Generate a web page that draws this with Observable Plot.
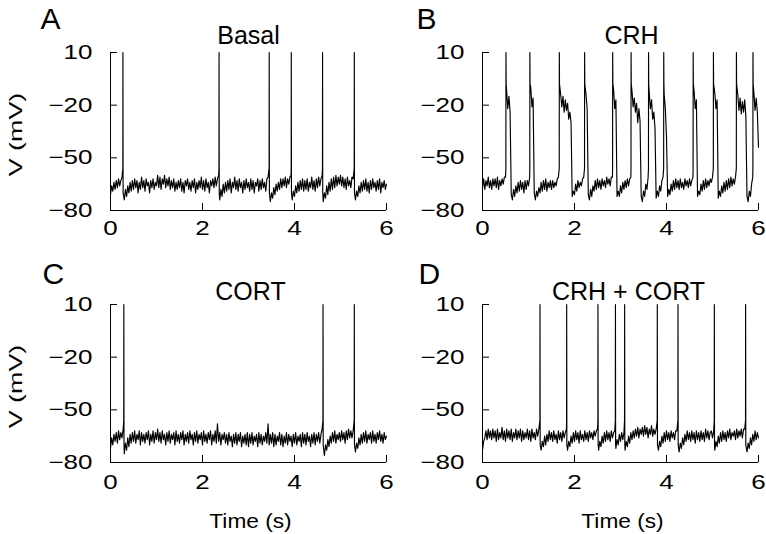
<!DOCTYPE html>
<html><head><meta charset="utf-8">
<script src="https://cdn.jsdelivr.net/npm/d3@7"></script>
<script src="https://cdn.jsdelivr.net/npm/@observablehq/plot@0.6"></script>
<style>
html,body{margin:0;padding:0;background:#fff;}
#fig{position:relative;width:766px;height:534px;overflow:hidden;background:#fff;}
</style></head><body><div id="fig"></div>
<script>
// ---- data ----
const sampleStep = 0.025;            // s between baseline samples
const xTicks = [0, 2, 4, 6];
const yTicks = [10, -20, -50, -80];
const panelLetters = ["A", "B", "C", "D"];
const panelTitles = ["Basal", "CRH", "CORT", "CRH + CORT"];
const spikePeak = 10;
const spikeThreshold = -56;
const spikeTroughs = [-70, -8, -70, -70];

const basalSpikes = [0.27, 2.36, 3.45, 3.93, 4.61, 5.30];
const crhSpikes = [0.51, 1.03, 1.67, 2.22, 2.83, 3.23, 3.61, 3.94, 4.58, 5.02, 5.52, 5.88];
const cortSpikes = [0.29, 4.62, 5.30];
const crhCortSpikes = [1.25, 1.83, 2.51, 2.89, 3.09, 3.80, 4.25, 5.04, 5.72];

const basalV = [
-71,-66,-69,-64,-68,-63,-67,-62,-66,-63,
-61,-73,-74,-68,-72,-66,-70,-64,-69,-63,
-68,-62,-67,-63,-70,-64,-68,-61,-67,-63,
-69,-62,-66,-64,-70,-63,-67,-62,-68,-64,
-66,-60,-67,-61,-68,-62,-65,-60,-67,-62,
-66,-61,-68,-63,-67,-62,-69,-64,-68,-63,
-67,-62,-69,-64,-70,-63,-66,-62,-68,-64,
-69,-63,-67,-62,-70,-64,-68,-63,-67,-61,
-68,-63,-69,-62,-67,-64,-70,-63,-66,-62,
-67,-61,-66,-62,-60,-74,-68,-72,-65,-70,
-64,-69,-63,-68,-62,-70,-64,-67,-61,-68,
-63,-69,-62,-67,-64,-70,-63,-68,-62,-67,
-64,-69,-62,-68,-63,-70,-64,-66,-62,-69,
-63,-68,-62,-67,-64,-69,-62,-61,-74,-75,
-70,-73,-67,-71,-65,-69,-64,-68,-62,-67,
-62,-66,-61,-67,-62,-65,-61,-60,-74,-69,
-72,-66,-70,-64,-69,-63,-68,-62,-69,-63,
-68,-62,-69,-64,-67,-61,-68,-63,-69,-62,
-67,-61,-66,-62,-60,-75,-70,-73,-66,-71,
-64,-69,-62,-68,-61,-67,-60,-66,-61,-65,
-60,-66,-61,-67,-62,-68,-61,-66,-63,-67,
-61,-62,-73,-74,-69,-72,-66,-70,-64,-69,
-63,-68,-62,-69,-64,-70,-63,-68,-62,-67,
-64,-69,-63,-68,-62,-70,-64,-67,-63,-68,
-65];

const crhV = [
-67,-62,-68,-63,-66,-61,-67,-63,-68,-62,
-66,-62,-67,-61,-68,-63,-66,-62,-65,-61,
-61,-12,-22,-15,-24,-71,-74,-68,-72,-66,
-70,-64,-69,-63,-68,-64,-70,-63,-68,-63,
-66,-61,-10,-21,-16,-70,-74,-69,-72,-67,
-70,-64,-69,-63,-68,-62,-69,-64,-67,-63,
-68,-63,-67,-64,-66,-62,-61,-60,-14,-21,
-15,-24,-17,-23,-19,-28,-24,-30,-72,-69,
-71,-65,-69,-63,-67,-64,-66,-62,-61,-60,
-14,-22,-71,-74,-68,-72,-66,-69,-63,-68,
-62,-67,-63,-68,-62,-66,-63,-67,-61,-65,
-62,-66,-61,-61,-11,-22,-17,-72,-69,-72,
-66,-70,-64,-68,-63,-67,-62,-66,-62,-61,
-12,-21,-16,-24,-19,-30,-22,-29,-72,-75,
-69,-72,-65,-68,-61,-13,-22,-17,-28,-24,
-33,-73,-69,-72,-66,-69,-63,-61,-14,-22,
-38,-72,-68,-71,-65,-69,-63,-68,-62,-67,
-63,-68,-62,-67,-64,-68,-62,-66,-63,-67,
-62,-66,-63,-61,-12,-22,-17,-72,-69,-71,
-65,-69,-63,-68,-62,-67,-63,-66,-62,-64,
-61,-60,-13,-22,-17,-73,-69,-72,-66,-70,
-64,-69,-63,-68,-62,-67,-61,-66,-62,-65,
-61,-60,-14,-23,-16,-25,-18,-24,-17,-26,
-72,-75,-69,-72,-65,-61,-13,-23,-16,-24,
-44];

const cortV = [
-72,-66,-70,-64,-68,-63,-69,-62,-67,-63,
-66,-61,-75,-69,-73,-66,-71,-64,-69,-63,
-68,-62,-69,-64,-67,-62,-70,-63,-68,-64,
-69,-63,-67,-62,-70,-64,-68,-62,-69,-63,
-67,-61,-68,-63,-69,-62,-67,-64,-70,-63,
-68,-62,-69,-64,-67,-63,-70,-62,-68,-64,
-69,-63,-67,-62,-70,-64,-68,-63,-69,-62,
-67,-64,-70,-63,-68,-62,-69,-64,-67,-63,
-70,-62,-68,-64,-69,-63,-67,-62,-70,-64,
-68,-62,-69,-58,-68,-63,-70,-64,-67,-63,
-69,-64,-70,-63,-68,-65,-71,-64,-69,-63,
-70,-64,-68,-63,-71,-65,-69,-64,-70,-63,
-71,-64,-69,-63,-70,-65,-68,-64,-71,-63,
-69,-64,-70,-65,-68,-63,-69,-58,-70,-64,
-69,-63,-71,-64,-70,-65,-68,-63,-70,-64,
-71,-65,-69,-63,-70,-64,-68,-65,-71,-64,
-69,-63,-70,-65,-68,-64,-71,-63,-69,-64,
-70,-63,-68,-65,-71,-64,-69,-63,-70,-64,
-68,-63,-69,-64,-61,-60,-76,-70,-73,-67,
-71,-65,-69,-63,-68,-62,-69,-64,-67,-63,
-68,-62,-67,-63,-69,-62,-67,-61,-66,-62,
-66,-62,-60,-74,-69,-72,-66,-70,-64,-69,
-63,-68,-62,-69,-64,-67,-63,-69,-62,-68,
-64,-69,-63,-67,-62,-68,-64,-69,-63,-67,
-65];

const crhCortV = [
-73,-68,-66,-62,-67,-61,-66,-62,-67,-61,
-66,-62,-68,-61,-67,-63,-66,-60,-67,-62,
-68,-61,-66,-62,-67,-61,-68,-63,-66,-61,
-67,-62,-66,-61,-68,-62,-67,-63,-66,-61,
-67,-62,-68,-61,-66,-63,-67,-61,-65,-61,
-60,-73,-68,-71,-65,-70,-64,-68,-62,-67,
-63,-68,-62,-67,-64,-69,-62,-67,-63,-68,
-62,-66,-63,-61,-73,-68,-71,-65,-69,-63,
-68,-62,-67,-63,-69,-62,-67,-64,-68,-62,
-67,-63,-68,-62,-66,-63,-67,-62,-65,-62,
-61,-73,-68,-71,-65,-69,-63,-68,-62,-67,
-63,-68,-62,-66,-63,-62,-72,-67,-70,-64,
-68,-63,-67,-63,-73,-68,-71,-65,-69,-63,
-67,-62,-66,-61,-65,-60,-66,-61,-64,-60,
-65,-59,-64,-60,-66,-61,-64,-59,-65,-61,
-64,-61,-60,-73,-68,-71,-65,-69,-63,-68,
-62,-67,-63,-68,-62,-66,-63,-67,-62,-62,
-60,-74,-69,-72,-66,-70,-64,-68,-62,-67,
-63,-68,-62,-67,-63,-69,-62,-67,-63,-68,
-62,-67,-63,-68,-61,-66,-62,-67,-63,-62,
-66,-62,-73,-68,-71,-65,-69,-63,-68,-62,
-67,-63,-68,-62,-66,-61,-67,-63,-65,-62,
-67,-61,-66,-62,-65,-61,-66,-61,-61,-60,
-74,-69,-72,-66,-70,-64,-68,-62,-67,-63,
-66];

// ---- build traces (baseline samples + spike vertices) ----
function buildTrace(values, spikes, trough) {
  const pts = values.map((v, i) => ({t: i * sampleStep, v}))
    .filter(p => !spikes.some(s => p.t > s - 0.0035 && p.t < s + 0.006));
  for (const s of spikes) {
    pts.push({t: s - 0.002, v: spikeThreshold}, {t: s, v: spikePeak}, {t: s + 0.004, v: trough});
  }
  return pts.sort((a, b) => a.t - b.t);
}

const traces = [
  buildTrace(basalV, basalSpikes, spikeTroughs[0]),
  buildTrace(crhV, crhSpikes, spikeTroughs[1]),
  buildTrace(cortV, cortSpikes, spikeTroughs[2]),
  buildTrace(crhCortV, crhCortSpikes, spikeTroughs[3])
];

const layout = [
  {left: 0,   top: 0,   height: 260, titleDx: 0,  titleDy: -9, letterDx: -70, letterDy: -24, xPad: 17, ylabel: true,  xlabel: false},
  {left: 372, top: 0,   height: 260, titleDx: 11, titleDy: -9, letterDx: -66, letterDy: -24, xPad: 17, ylabel: false, xlabel: false},
  {left: 0,   top: 252, height: 282, titleDx: 2,  titleDy: -5, letterDx: -68, letterDy: -21, xPad: 19, ylabel: true,  xlabel: true},
  {left: 372, top: 252, height: 282, titleDx: 8,  titleDy: -5, letterDx: -64, letterDy: -21, xPad: 19, ylabel: false, xlabel: true}
];

const FONT = "Liberation Sans, Arial, Helvetica, sans-serif";
const fig = document.getElementById("fig");
layout.forEach((L, k) => {
  const marks = [
    Plot.ruleX([0], {stroke: "black", strokeWidth: 1}),
    Plot.ruleY([-80], {stroke: "black", strokeWidth: 1}),
    Plot.axisY(yTicks, {tickSize: -7, tickPadding: 25, label: null, fontFamily: FONT, fontSize: 20, tickFormat: d3.format("d")}),
    Plot.axisX(xTicks, {tickSize: -7, tickPadding: L.xPad, label: null, fontFamily: FONT, fontSize: 20}),
    Plot.line(traces[k], {x: "t", y: "v", stroke: "black", strokeWidth: 1.15}),
    Plot.text([panelTitles[k]], {text: d => d, frameAnchor: "top", textAnchor: "middle", lineAnchor: "bottom", dx: L.titleDx, dy: L.titleDy, fontFamily: FONT, fontSize: 25}),
    Plot.text([panelLetters[k]], {text: d => d, frameAnchor: "top-left", textAnchor: "start", lineAnchor: "bottom", dx: L.letterDx, dy: L.letterDy, fontFamily: FONT, fontSize: 30})
  ];
  if (L.ylabel) marks.push(Plot.text(["V (mV)"], {text: d => d, frameAnchor: "left", textAnchor: "middle", rotate: -90, dx: -94, dy: 3, fontFamily: FONT, fontSize: 18.5}));
  if (L.xlabel) marks.push(Plot.text(["Time (s)"], {text: d => d, frameAnchor: "bottom", textAnchor: "middle", lineAnchor: "bottom", dx: 2, dy: 65, fontFamily: FONT, fontSize: 21}));
  const chart = Plot.plot({
    width: 400, height: L.height,
    marginLeft: 110, marginRight: 14, marginTop: 52, marginBottom: L.height - 210,
    x: {domain: [0, 6], axis: null},
    y: {domain: [-80, 10], axis: null},
    style: {background: "transparent", overflow: "visible", color: "black", fontFamily: FONT, fontSize: "20px"},
    marks
  });
  // the reference's tick and axis labels are set in a horizontally widened face
  d3.select(chart).selectAll("text").each(function() {
    const t = this.textContent;
    let s = null;
    if (/^[−-]?\d+$/.test(t)) s = 1.3;
    else if (t === "V (mV)") s = 1.45;
    else if (t === "Time (s)") s = 1.08;
    if (!s) return;
    const tr = this.getAttribute("transform");
    if (tr) this.setAttribute("transform", tr + ` scale(${s},1)`);
    else {
      const x = +this.getAttribute("x") || 0, y = +this.getAttribute("y") || 0;
      this.setAttribute("transform", `translate(${x},${y}) scale(${s},1) translate(${-x},${-y})`);
    }
  });
  chart.style.position = "absolute";
  chart.style.left = L.left + "px";
  chart.style.top = L.top + "px";
  fig.appendChild(chart);
});
</script></body></html>
